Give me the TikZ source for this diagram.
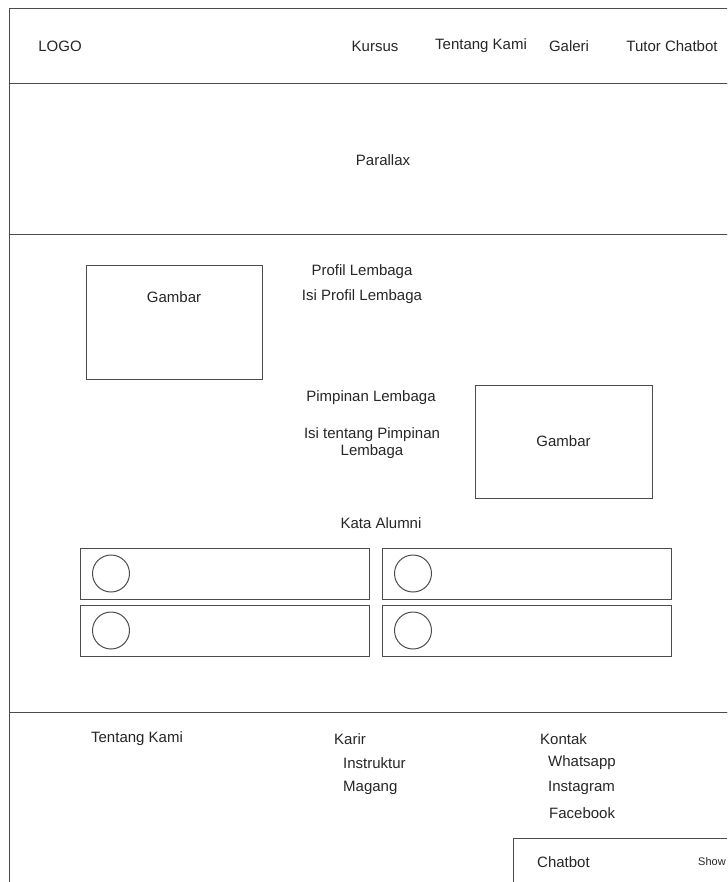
\documentclass[tikz,border=0pt]{standalone}
\usepackage{fontspec}
\setmainfont{Liberation Sans}
\begin{document}
\begin{tikzpicture}[x=1pt,y=-1pt,
    txt/.style={font=\fontsize{15}{17}\selectfont, text=black!85, inner sep=0pt},
    frame/.style={draw=black!70, line width=1pt},
    box/.style={frame, rectangle, inner sep=0pt},
    card/.style={box, minimum width=289pt, minimum height=51pt},
    avatar/.style={frame, circle, inner sep=0pt, minimum size=37pt}]
\useasboundingbox (0,0) rectangle (727,882);
\clip (0,0) rectangle (727,882);
% sections
\draw[frame] (9,9) rectangle (740,84);
\draw[frame] (9,84) rectangle (740,235);
\draw[frame] (9,235) rectangle (740,712);
\draw[frame] (9,712) rectangle (740,900);
% header
\node[txt] (logo) at (60,46) {LOGO};
\node[txt] (kursus) at (375,46) {Kursus};
\node[txt] (tentang) at (481,46) {Tentang Kami};
\node[txt] (galeri) at (569,46) {Galeri};
\node[txt] (tutor) at (672,46) {Tutor Chatbot};
\node[txt] (parallax) at (383,160) {Parallax};
% profil
\node[box, minimum width=176pt, minimum height=113pt] (gambar1) at (174,322.5) {};
\node[txt] (gambar1-label) at (174,297) {Gambar};
\node[txt] (profil) at (362,272) {Profil Lembaga};
\node[txt] (isi-profil) at (362,297) {Isi Profil Lembaga};
% pimpinan
\node[txt] (pimpinan) at (371,398) {Pimpinan Lembaga};
\node[txt, align=center] (isi-pimpinan) at (372,443) {Isi tentang Pimpinan\\Lembaga};
\node[box, minimum width=177pt, minimum height=113pt] (gambar2) at (563.5,441.5) {};
\node[txt] (gambar2-label) at (gambar2) {Gambar};
% alumni
\node[txt] (alumni) at (381,523) {Kata Alumni};
\foreach \x/\col in {80/a,382/b} \foreach \y/\row in {548/1,605/2}
  {
    \node[card, anchor=north west] (card-\col\row) at (\x,\y) {};
    \node[avatar] (foto-\col\row) at (\x+31,\y+25.5) {};
  }
% footer
\node[txt] (f-tentang) at (137,739) {Tentang Kami};
\node[txt, anchor=west] (karir) at (334,739) {Karir};
\node[txt, anchor=west] (instruktur) at (343,763) {Instruktur};
\node[txt, anchor=west] (magang) at (343,788) {Magang};
\node[txt, anchor=west] (kontak) at (540,739) {Kontak};
\node[txt, anchor=west] (whatsapp) at (548,763) {Whatsapp};
\node[txt, anchor=west] (instagram) at (548,788) {Instagram};
\node[txt, anchor=west] (facebook) at (549,813) {Facebook};
% chatbot
\draw[frame] (513,838) rectangle (760,900);
\node[txt, anchor=west] (chatbot) at (537,862) {Chatbot};
\node[txt, font=\fontsize{11}{12}\selectfont, anchor=west] (show) at (698,862) {Show};
\end{tikzpicture}
\end{document}
